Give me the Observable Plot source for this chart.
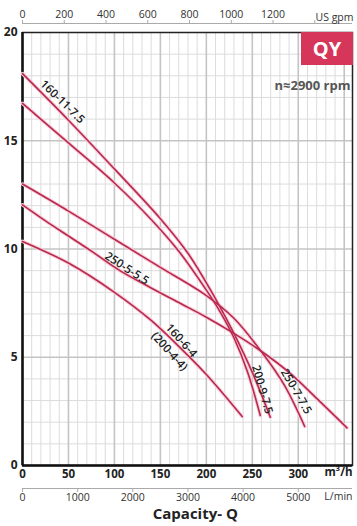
<!DOCTYPE html>
<html><head><meta charset="utf-8">
<script src="https://cdn.jsdelivr.net/npm/d3@7"></script>
<script src="https://cdn.jsdelivr.net/npm/@observablehq/plot@0.6"></script>
<style>
body{margin:0;background:#fff;}
#wrap{position:relative;width:357px;height:526px;font-family:"Open Sans",sans-serif;}
#qy{position:absolute;left:301px;top:32px;width:52px;height:33px;background:#d7365b;color:#fff;font:bold 20px "Open Sans",sans-serif;display:flex;align-items:center;justify-content:center;}
</style></head><body><div id="wrap"><div id="qy">QY</div></div>
<script>
// Pump curves: capacity Q (m3/h) vs head H (m)
const q160_11 = [0, 50, 100, 150, 180, 210, 230, 250, 269.6];
const h160_11 = [18.1, 15.95, 13.7, 11.4, 9.8, 7.7, 6.1, 4.3, 2.23];
const q200_9 = [0, 50, 100, 141, 170, 200, 215, 230, 245, 258.7];
const h200_9 = [16.73, 14.9, 13.05, 11.32, 9.9, 8.1, 7.1, 5.9, 4.3, 2.31];
const q250_7 = [0, 50, 100, 150, 200, 230, 260, 285, 307];
const h250_7 = [13.0, 11.75, 10.45, 9.15, 7.85, 6.8, 5.25, 3.7, 1.8];
const q250_5 = [0, 25, 50, 75, 106, 140, 172, 200, 230, 259, 290, 320, 353];
const h250_5 = [12.04, 11.3, 10.6, 9.9, 9.0, 8.2, 7.48, 6.85, 6.1, 5.3, 4.3, 3.1, 1.74];
const q160_6 = [0, 50, 100, 140, 170, 200, 239];
const h160_6 = [10.35, 9.35, 8.0, 6.7, 5.5, 4.2, 2.26];

// Curve labels
const labelText = ["160-11-7.5", "250-5-5.5", "160-6-4", "(200-4-4)", "200-9-7.5", "250-7-7.5"];
const labelQ = [43.5, 113.6, 172.8, 159.8, 260.9, 297.8];
const labelH = [16.8, 9.1, 5.77, 5.27, 3.51, 3.42];
const labelAngle = [44, 33, 48, 48, 74, 60];

// Axis ticks
const m3hTicks = [0, 50, 100, 150, 200, 250, 300];
const headTicks = [0, 5, 10, 15, 20];
const gpmTicks = [0, 200, 400, 600, 800, 1000, 1200, 1400];
const gpmLabels = ["0", "200", "400", "600", "800", "1000", "1200", ""];
const lminTicks = [0, 1000, 2000, 3000, 4000, 5000];

const series = [
  ["160-11-7.5", q160_11, h160_11],
  ["200-9-7.5", q200_9, h200_9],
  ["250-7-7.5", q250_7, h250_7],
  ["250-5-5.5", q250_5, h250_5],
  ["160-6-4", q160_6, h160_6]
];
const rows = series.flatMap(([name, qs, hs]) => qs.map((q, i) => ({name, q, h: hs[i]})));
const labels = labelText.map((t, i) => ({t, q: labelQ[i], h: labelH[i], a: labelAngle[i]}));

const GPM = 0.227125, LMIN = 0.06;
const font = "'Open Sans', sans-serif";
const curveColor = "#b8294f";

const chart = Plot.plot({
  width: 357, height: 526,
  marginLeft: 22, marginRight: 5, marginTop: 32, marginBottom: 61,
  style: {fontFamily: font, background: "#fff", color: "#222"},
  x: {domain: [0, 359], axis: null},
  y: {domain: [0, 20], axis: null},
  marks: [
    Plot.ruleX(d3.range(10, 359, 10).filter(d => d % 50 !== 0), {stroke: "#dcdcdc", strokeWidth: 1}),
    Plot.ruleY(d3.range(1, 20).filter(d => d % 5 !== 0), {stroke: "#dcdcdc", strokeWidth: 1}),
    Plot.ruleX(d3.range(50, 359, 50), {stroke: "#c4c4c4", strokeWidth: 1.6}),
    Plot.ruleY([5, 10, 15], {stroke: "#c4c4c4", strokeWidth: 1.6}),
    Plot.frame({stroke: "#222", strokeWidth: 1.5}),
    Plot.ruleX([0], {stroke: "#111", strokeWidth: 2.5}),
    Plot.ruleY([0], {stroke: "#111", strokeWidth: 2.5}),
    // curves with glow
    Plot.line(rows, {x: "q", y: "h", z: "name", curve: "catmull-rom", stroke: "#f8cdd9", strokeWidth: 3.6}),
    Plot.line(rows, {x: "q", y: "h", z: "name", curve: "catmull-rom", stroke: curveColor, strokeWidth: 1.6}),
    Plot.text(labels, {x: "q", y: "h", text: "t", rotate: "a", fontSize: 11.5, fontWeight: 600, fill: "#222"}),
    // left axis
    Plot.axisY(headTicks, {anchor: "left", tickSize: 0, tickPadding: 5, fontSize: 12, fontWeight: "bold", label: null}),
    // bottom m3/h axis
    Plot.axisX(m3hTicks, {anchor: "bottom", tickSize: 0, tickPadding: 4, fontSize: 11.5, fontWeight: "bold", label: null}),
    Plot.text(["m³/h"], {frameAnchor: "bottom-right", dy: 10, textAnchor: "end", fontSize: 11.5, fontWeight: "bold"}),
    // L/min axis
    Plot.ruleY([0], {dy: 23, stroke: "#aaa", strokeWidth: 1}),
    Plot.axisX(lminTicks.map(v => v * LMIN), {anchor: "bottom", dy: 23, tickSize: 4, tickPadding: 1, stroke: "#aaa", fill: "#333", fontSize: 10.5, tickFormat: (d, i) => String(lminTicks[i]), label: null}),
    Plot.text(["L/min"], {frameAnchor: "bottom-right", dy: 34, textAnchor: "end", fontSize: 10.5, fill: "#333"}),
    // top US gpm axis
    Plot.ruleY([20], {dy: -9, stroke: "#aaa", strokeWidth: 1}),
    Plot.axisX(gpmTicks.map(v => v * GPM), {anchor: "top", dy: -9, tickSize: 4, tickPadding: 2, stroke: "#aaa", fill: "#333", fontSize: 10.5, tickFormat: (d, i) => gpmLabels[i], label: null}),
    Plot.text(["US gpm"], {frameAnchor: "top-right", dy: -19, dx: 1, textAnchor: "end", fontSize: 10.5, fill: "#333"}),
    // speed note
    Plot.text(["n≈2900 rpm"], {frameAnchor: "top-right", dx: -2, dy: 48, textAnchor: "end", fontSize: 13, fontWeight: "bold", fill: "#555"}),
    // title
    Plot.text(["Capacity- Q"], {x: () => 188, frameAnchor: "bottom", dy: 53, fontSize: 15, fontWeight: "bold", fill: "#222"})
  ]
});
document.getElementById("wrap").prepend(chart);
</script></body></html>
